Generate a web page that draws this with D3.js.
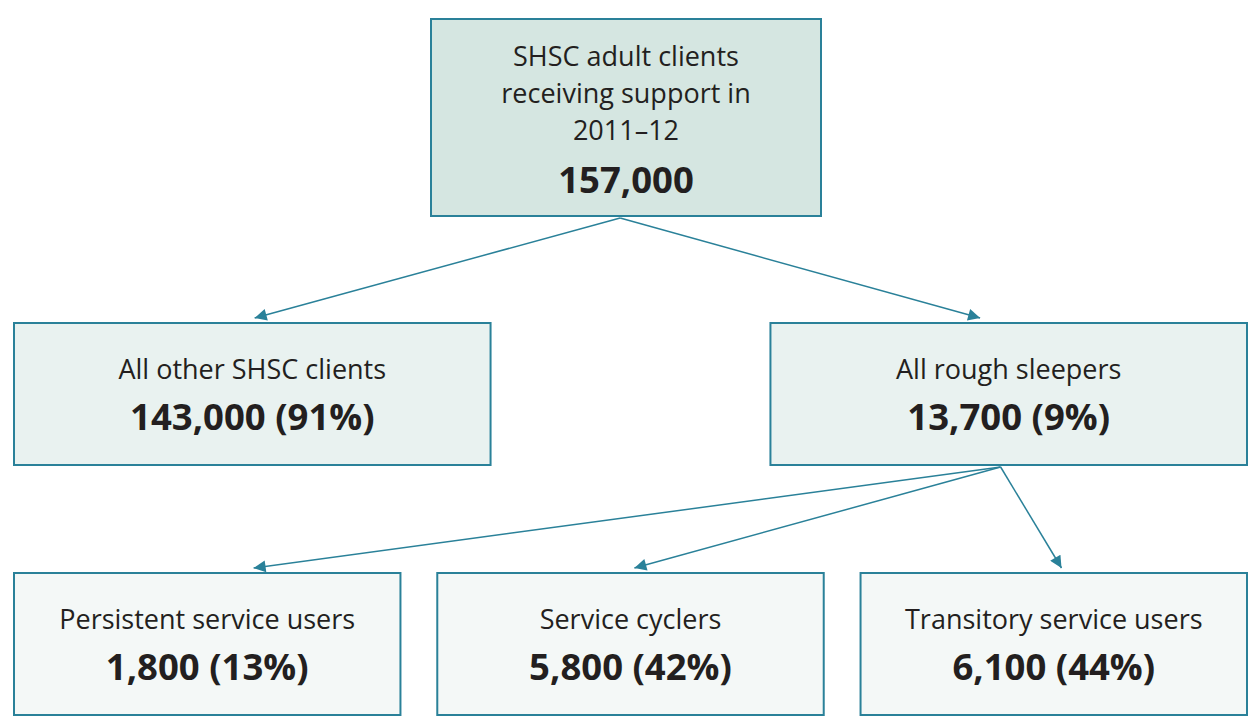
<!DOCTYPE html>
<html>
<head>
<meta charset="utf-8">
<script src="https://cdn.jsdelivr.net/npm/d3@7"></script>
<style>
  body { margin: 0; background: #fff; }
  svg { display: block; font-family: "Open Sans", "Noto Sans", sans-serif; }
</style>
</head>
<body>
<div id="chart"></div>
<script>
// node data
const nodeIds = ["all", "other", "rough", "persistent", "cyclers", "transitory"];
const nodeParents = [null, "all", "all", "rough", "rough", "rough"];
const nodeLabels = [
  ["SHSC adult clients", "receiving support in", "2011\u201312"],
  ["All other SHSC clients"],
  ["All rough sleepers"],
  ["Persistent service users"],
  ["Service cyclers"],
  ["Transitory service users"]
];
const nodeValues = ["157,000", "143,000", "13,700", "1,800", "5,800", "6,100"];
const nodePercents = [null, "91%", "9%", "13%", "42%", "44%"];
const nodeLevels = [0, 1, 1, 2, 2, 2];

const width = 1255, height = 720;
const levelFills = ["#d5e6e1", "#e9f2f0", "#f4f8f7"];
const stroke = "#2a8199";
const textColor = "#231f20";

// arrow attachment points, as fraction of box width
const srcAnchor = { all: 0.485, rough: 0.483 };
const dstAnchor = { other: 0.505, rough: 0.44, persistent: 0.62, cyclers: 0.51, transitory: 0.52 };

const nodes = nodeIds.map((id, i) => ({
  id: id, parent: nodeParents[i], label: nodeLabels[i],
  value: nodeValues[i], pct: nodePercents[i], level: nodeLevels[i]
}));

// vertical layout per level
const yTop = d3.scaleOrdinal().domain([0, 1, 2]).range([19, 323, 573]);
const boxH = d3.scaleOrdinal().domain([0, 1, 2]).range([197, 142, 142]);

// horizontal bands per level
const xTop = d3.scaleBand().domain(["all"]).range([431, 821]);
const xMid = d3.scaleBand().domain(["other", "rough"]).range([14, 1247]).paddingInner(0.37);
const xBot = d3.scaleBand().domain(["persistent", "cyclers", "transitory"]).range([14, 1247]).paddingInner(0.087);
const xScales = [xTop, xMid, xBot];

nodes.forEach(d => {
  const s = xScales[d.level];
  d.x = s(d.id);
  d.w = s.bandwidth();
  d.y = yTop(d.level);
  d.h = boxH(d.level);
});
const byId = new Map(nodes.map(d => [d.id, d]));

const svg = d3.select("#chart").append("svg")
  .attr("width", width).attr("height", height);

svg.append("defs").append("marker")
  .attr("id", "arrow")
  .attr("viewBox", "0 0 10 10")
  .attr("refX", 10).attr("refY", 5)
  .attr("markerWidth", 15).attr("markerHeight", 12)
  .attr("markerUnits", "userSpaceOnUse")
  .attr("orient", "auto")
  .append("path")
  .attr("d", "M0,0 L10,5 L0,10 Z")
  .attr("fill", stroke);

// links
const links = nodes.filter(d => d.parent).map(d => ({ source: byId.get(d.parent), target: d }));
svg.append("g").selectAll("line")
  .data(links)
  .join("line")
  .attr("x1", d => d.source.x + d.source.w * srcAnchor[d.source.id])
  .attr("y1", d => d.source.y + d.source.h + 2)
  .attr("x2", d => d.target.x + d.target.w * dstAnchor[d.target.id])
  .attr("y2", d => d.target.y - 5)
  .attr("stroke", stroke)
  .attr("stroke-width", 1.5)
  .attr("marker-end", "url(#arrow)");

// boxes
const box = svg.append("g").selectAll("g")
  .data(nodes)
  .join("g")
  .attr("transform", d => `translate(${d.x},${d.y})`);

box.append("rect")
  .attr("width", d => d.w)
  .attr("height", d => d.h)
  .attr("fill", d => levelFills[d.level])
  .attr("stroke", stroke)
  .attr("stroke-width", 2);

box.each(function (d) {
  const g = d3.select(this);
  const lineH = 37;
  const firstY = d.level === 0 ? 47 : 56;
  d.label.forEach((t, i) => {
    g.append("text")
      .attr("x", d.w / 2)
      .attr("y", firstY + i * lineH)
      .attr("text-anchor", "middle")
      .attr("font-size", 27)
      .attr("fill", textColor)
      .text(t);
  });
  g.append("text")
    .attr("x", d.w / 2)
    .attr("y", firstY + (d.label.length - 1) * lineH + (d.level === 0 ? 53 : 51))
    .attr("text-anchor", "middle")
    .attr("font-size", 36.5)
    .attr("font-weight", "bold")
    .attr("fill", textColor)
    .text(d.pct ? `${d.value} (${d.pct})` : d.value);
});
</script>
</body>
</html>
